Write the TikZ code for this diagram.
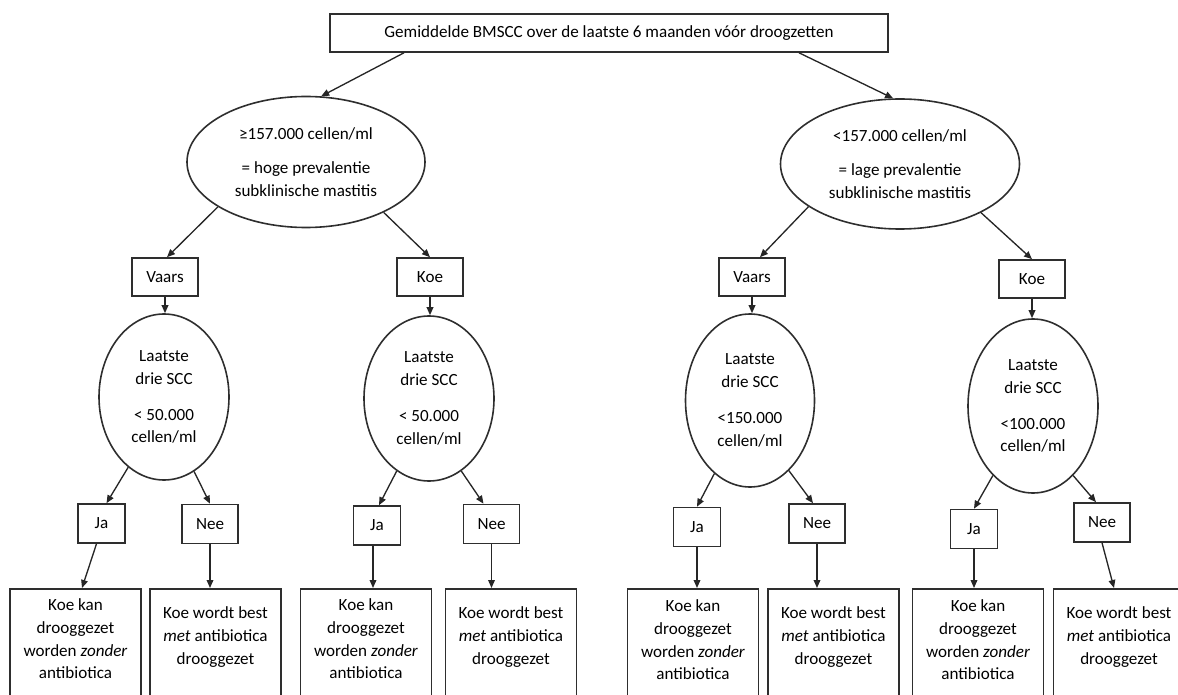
\documentclass[tikz,border=0pt]{standalone}
\usepackage{fontspec}
\setmainfont{Carlito}
\usetikzlibrary{shapes.geometric,arrows.meta,calc}
\begin{document}
\begin{tikzpicture}[x=0.75pt,y=-0.75pt,
  every node/.style={font=\fontsize{12.8}{17}\selectfont, text=black},
  bx/.style={draw=black!82, line width=1.2pt, inner sep=0pt, align=center},
  el/.style={draw=black!82, line width=1.2pt, ellipse, inner sep=0pt, align=center},
  vbox/.style={bx, minimum width=49.5pt, minimum height=28.5pt},
  jabox/.style={bx, minimum width=35.25pt, minimum height=29.25pt},
  neebox/.style={bx, minimum width=42pt, minimum height=29.25pt},
  endbox/.style={bx, anchor=north, minimum width=98.25pt, minimum height=91.5pt},
  txt/.style={inner sep=0pt, align=center},
  arr/.style={draw=black!85, line width=1pt, -{Triangle[length=6pt,width=5pt]}},
]
\useasboundingbox (0,0) rectangle (1178,695);
\clip (0,0) rectangle (1178,695);

% top
\node[bx, minimum width=418.5pt, minimum height=28.5pt] (top) at (609,33)
  {Gemiddelde BMSCC over de laatste 6 maanden vóór droogzetten};

% first level ellipses
\node[el, minimum width=178.5pt, minimum height=98.25pt] (eL) at (306,162)
  {≥157.000 cellen/ml\\[9pt]= hoge prevalentie\\subklinische mastitis};
\node[el, minimum width=179.25pt, minimum height=97.5pt] (eR) at (900,164)
  {<157.000 cellen/ml\\[9pt]= lage prevalentie\\subklinische mastitis};

% Vaars / Koe
\node[vbox] (vL) at (165,277) {Vaars};
\node[vbox] (kL) at (430,277) {Koe};
\node[vbox] (vR) at (752,277) {Vaars};
\node[vbox] (kR) at (1032,279) {Koe};

% second level ellipses
\node[el, minimum width=97.5pt, minimum height=124.5pt] (e1) at (164,397)
  {Laatste\\drie SCC\\[10pt]< 50.000\\cellen/ml};
\node[el, minimum width=97.5pt, minimum height=123.75pt] (e2) at (429,398.5)
  {Laatste\\drie SCC\\[10pt]< 50.000\\cellen/ml};
\node[el, minimum width=96.75pt, minimum height=129.75pt] (e3) at (750,400.5)
  {Laatste\\drie SCC\\[10pt]<150.000\\cellen/ml};
\node[el, minimum width=97.5pt, minimum height=130.5pt] (e4) at (1033,406)
  {Laatste\\drie SCC\\[10pt]<100.000\\cellen/ml};

% Ja / Nee
\node[jabox] (ja1) at (101.5,523.5) {Ja};
\node[neebox] (nee1) at (210,524) {Nee};
\node[jabox] (ja2) at (377,525.5) {Ja};
\node[neebox] (nee2) at (491.5,524) {Nee};
\node[jabox] (ja3) at (697,527) {Ja};
\node[neebox] (nee3) at (817,523.5) {Nee};
\node[jabox] (ja4) at (974,529) {Ja};
\node[neebox] (nee4) at (1102,522.5) {Nee};

% end boxes
\node[endbox] (b1) at (75.5,588) {};
\node[endbox] (b2) at (215.5,588) {};
\node[endbox] (b3) at (366,588) {};
\node[endbox] (b4) at (511,588) {};
\node[endbox] (b5) at (693,588) {};
\node[endbox] (b6) at (833.5,588) {};
\node[endbox] (b7) at (978,588) {};
\node[endbox] (b8) at (1119,588) {};

\node[txt] (t1) at ($(b1.north)+(0,51)$) {Koe kan\\drooggezet\\worden \textit{zonder}\\antibiotica};
\node[txt] (t2) at ($(b2.north)+(0,49)$) {Koe wordt best\\\textit{met} antibiotica\\drooggezet};
\node[txt] (t3) at ($(b3.north)+(0,51)$) {Koe kan\\drooggezet\\worden \textit{zonder}\\antibiotica};
\node[txt] (t4) at ($(b4.north)+(0,49)$) {Koe wordt best\\\textit{met} antibiotica\\drooggezet};
\node[txt] (t5) at ($(b5.north)+(0,52)$) {Koe kan\\drooggezet\\worden \textit{zonder}\\antibiotica};
\node[txt] (t6) at ($(b6.north)+(0,49)$) {Koe wordt best\\\textit{met} antibiotica\\drooggezet};
\node[txt] (t7) at ($(b7.north)+(0,52)$) {Koe kan\\drooggezet\\worden \textit{zonder}\\antibiotica};
\node[txt] (t8) at ($(b8.north)+(0,49)$) {Koe wordt best\\\textit{met} antibiotica\\drooggezet};

% connectors
\draw[arr] ($(top.south)+(-205,0)$) -- (eL.77.8);
\draw[arr] ($(top.south)+(190,0)$) -- (eR.96);
\draw[arr] (eL.207) -- ($(vL.north)+(2,0)$);
\draw[arr] (eL.327) -- (kL.north);
\draw[arr] (eR.205.5) -- ($(vR.north)+(8,0)$);
\draw[arr] (eR.329.7) -- (kR.north);
\draw[arr] (vL.south) -- (vL.south |- e1.north);
\draw[arr] (kL.south) -- (kL.south |- e2.north);
\draw[arr] (vR.south) -- (vR.south |- e3.north);
\draw[arr] (kR.south) -- (kR.south |- e4.north);

\draw[arr] (e1.243) -- ($(ja1.north)+(5,0)$);
\draw[arr] (e1.292.8) -- (nee1.north);
\draw[arr] (e2.246.3) -- ($(ja2.north)+(2,0)$);
\draw[arr] (e2.294) -- ($(nee2.north)+(-8,0)$);
\draw[arr] (e3.244.4) -- (ja3.north);
\draw[arr] (e3.299.7) -- ($(nee3.north)+(-4,0)$);
\draw[arr] (e4.240.3) -- (ja4.north);
\draw[arr] (e4.300.4) -- ($(nee4.north)+(-6,0)$);

\draw[arr] ($(ja1.south)+(-5,0)$) -- ($(b1.north)+(6.5,0)$);
\draw[arr] (nee1.south) -- (nee1.south |- b2.north);
\draw[arr] ($(ja2.south)+(-4,0)$) -- ($(ja2.south |- b3.north)+(-4,0)$);
\draw[arr] (nee2.south) -- (nee2.south |- b4.north);
\draw[arr] (ja3.south) -- (ja3.south |- b5.north);
\draw[arr] (nee3.south) -- (nee3.south |- b6.north);
\draw[arr] (ja4.south) -- (ja4.south |- b7.north);
\draw[arr] (nee4.south) -- ($(nee4.south |- b8.north)+(12,0)$);
\end{tikzpicture}
\end{document}
